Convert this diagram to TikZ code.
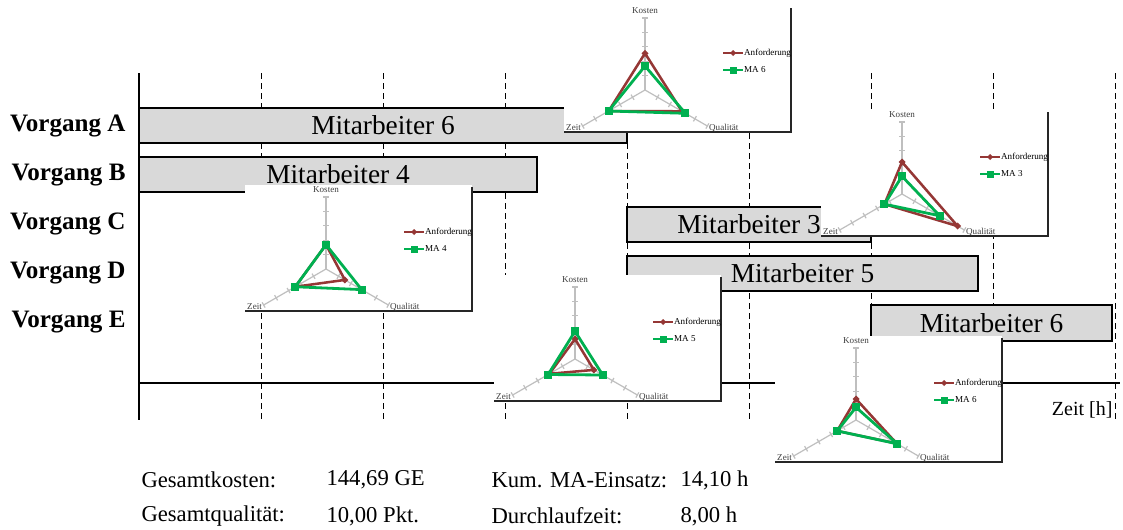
\documentclass[tikz,border=0pt]{standalone}
\usepackage{fontspec}
\setmainfont{Liberation Serif}

\definecolor{anfred}{HTML}{953735}
\definecolor{magreen}{HTML}{00B050}
\definecolor{barfill}{HTML}{D9D9D9}
\definecolor{axgray}{HTML}{BFBFBF}
\definecolor{chtext}{HTML}{404040}

\tikzset{every picture/.style={line width=0.75pt}}
\tikzset{
  bar/.style={draw=black, fill=barfill, line width=0.9pt},
  barlabel/.style={inner sep=0.75pt, font=\fontsize{20.5}{22}\selectfont},
  vorgang/.style={anchor=east, inner sep=0.75pt, font=\bfseries\fontsize{18.8}{20}\selectfont},
  gridline/.style={dash pattern={on 4.5pt off 3pt}, line width=0.6pt},
  timeaxis/.style={line width=2.2pt},
  sumtext/.style={anchor=west, inner sep=0.75pt, font=\fontsize{17}{19}\selectfont},
  radaraxis/.style={draw=axgray, line width=0.9pt},
  anfline/.style={draw=anfred, line width=1.9pt, line join=round},
  maline/.style={draw=magreen, line width=2.1pt, line join=round},
  chtxt/.style={inner sep=0.5pt, text=chtext, font=\fontsize{6.8}{7.5}\selectfont},
  % radar chart: legend name, Anforderung (K,Z,Q), MA (K,Z,Q) as radii
  pics/radar/.style n args={7}{code={
    \begin{scope}[yscale=-1]
    \fill[white] (-81,-84) rectangle (146,42);
    \draw[line width=1.2pt, draw=black!85] (146,-82) -- (146,42) -- (-81,42);
    \foreach \a in {-90,150,30}{
      \draw[radaraxis] (0,0) -- (\a:72);
      \foreach \r in {14.4,28.8,43.2,57.6,72}
        \draw[radaraxis, rotate=\a] (\r,-3) -- (\r,3);
    }
    \node[chtxt] (-kosten) at (0,-79) {Kosten};
    \node[chtxt, anchor=east] (-zeit) at (-63,38) {Zeit};
    \node[chtxt, anchor=west] (-qual) at (63,38) {Qualität};
    % Anforderung
    \draw[anfline] (-90:#2) -- (150:#3) -- (30:#4) -- cycle;
    \foreach \p in {(-90:#2),(150:#3),(30:#4)}
      \fill[anfred] \p ++(0,-3.5) -- ++(3.5,3.5) -- ++(-3.5,3.5) -- ++(-3.5,-3.5) -- cycle;
    % Mitarbeiter
    \draw[maline] (-90:#5) -- (150:#6) -- (30:#7) -- cycle;
    \foreach \p in {(-90:#5),(150:#6),(30:#7)}
      \fill[magreen] \p ++(-4,-4) rectangle ++(8,8);
    % legend
    \draw[anfred, line width=1.5pt] (78,-37) -- (98,-37);
    \fill[anfred] (88,-40) -- (91,-37) -- (88,-34) -- (85,-37) -- cycle;
    \node[chtxt, text=black, anchor=west] (-leganf) at (98,-37) {Anforderung};
    \draw[magreen, line width=1.5pt] (78,-20) -- (98,-20);
    \fill[magreen] (84.5,-23.5) rectangle (91.5,-16.5);
    \node[chtxt, text=black, anchor=west] (-legma) at (98,-20) {#1};
    \end{scope}
  }}
}

\begin{document}
\begin{tikzpicture}[x=0.75pt,y=0.75pt,yscale=-1,xscale=1]
\useasboundingbox (0,0) rectangle (1123,529);

%Grid lines
\foreach \x in {261,383,...,1115}
  \draw[gridline] (\x,73) -- (\x,420);

%Bars
\draw[bar] (139,108) rectangle node[barlabel] (maA) {Mitarbeiter 6} (627,143);
\draw[bar] (139,157) rectangle node[barlabel] (maB) {Mitarbeiter 4} (537,192);
\draw[bar] (627,207) rectangle node[barlabel] (maC) {Mitarbeiter 3} (871,242);
\draw[bar] (627,256) rectangle node[barlabel] (maD) {Mitarbeiter 5} (978,291);
\draw[bar] (871,305) rectangle node[barlabel] (maE) {Mitarbeiter 6} (1112,341);

%Axes
\draw[timeaxis] (139,73) -- (139,420);
\draw[timeaxis] (139,383) -- (1120,383);

% Text Node
\draw (127,126) node[vorgang] (vgA) {Vorgang A};
\draw (127,175) node[vorgang] (vgB) {Vorgang B};
\draw (127,224) node[vorgang] (vgC) {Vorgang C};
\draw (127,273) node[vorgang] (vgD) {Vorgang D};
\draw (127,322) node[vorgang] (vgE) {Vorgang E};
% Text Node
\draw (1114,410) node[anchor=east, inner sep=0.75pt, font=\fontsize{15}{17}\selectfont] (zeitachse) {Zeit [h]};

%Radar charts
\pic (chA) at (645,90) {radar={MA 6}{36.7}{42}{42.6}{24}{42}{46.6}};
\pic (chC) at (902,194) {radar={MA 3}{32}{20.3}{64.2}{17.7}{20.3}{43.5}};
\pic (chB) at (326,269) {radar={MA 4}{24.3}{35.5}{21.8}{24.3}{35.5}{41.2}};
\pic (chD) at (575,359) {radar={MA 5}{20}{29.6}{21.8}{27.7}{31}{32}};
\pic (chE) at (856,420) {radar={MA 6}{21}{21.8}{47}{12.7}{21.8}{47.5}};

% Text Node
\draw (140,480) node[sumtext] (gk) {Gesamtkosten:};
\draw (325,480) node[sumtext] (gkw) {144,69 GE};
\draw (490,480) node[sumtext] (kum) {Kum. MA-Einsatz:};
\draw (679,480) node[sumtext] (kumw) {14,10 h};
\draw (140,516) node[sumtext] (gq) {Gesamtqualität:};
\draw (325,516) node[sumtext] (gqw) {10,00 Pkt.};
\draw (490,516) node[sumtext] (dlz) {Durchlaufzeit:};
\draw (679,516) node[sumtext] (dlzw) {8,00 h};

\end{tikzpicture}
\end{document}
